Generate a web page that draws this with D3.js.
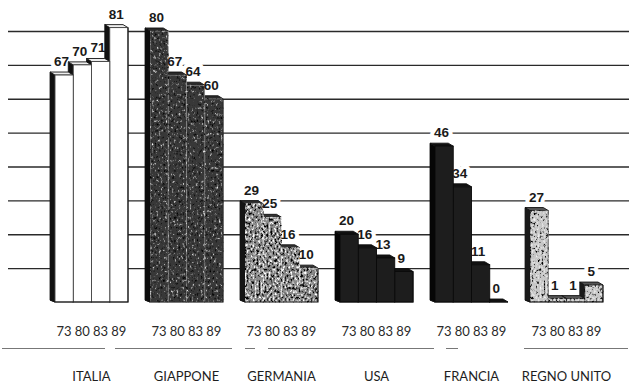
<!DOCTYPE html>
<html>
<head>
<meta charset="utf-8">
<script src="https://cdn.jsdelivr.net/npm/d3@7/dist/d3.min.js"></script>
<style>
  html, body { margin: 0; padding: 0; background: #fff; }
  svg { display: block; }
</style>
</head>
<body>
<script>
// Consumi per paese, quattro rilevazioni (73, 80, 83, 89)
const countries = ["ITALIA", "GIAPPONE", "GERMANIA", "USA", "FRANCIA", "REGNO UNITO"];
const years = ["73", "80", "83", "89"];
const italia = [67, 70, 71, 81];
const giappone = [80, 67, 64, 60];
const germania = [29, 25, 16, 10];
const usa = [20, 16, 13, 9];
const francia = [46, 34, 11, 0];
const regnoUnito = [27, 1, 1, 5];
const gridTicks = [10, 20, 30, 40, 50, 60, 70, 80];

const seriesByCountry = {
  "ITALIA": italia,
  "GIAPPONE": giappone,
  "GERMANIA": germania,
  "USA": usa,
  "FRANCIA": francia,
  "REGNO UNITO": regnoUnito
};

const W = 631, H = 391;
const svg = d3.select("body").append("svg").attr("width", W).attr("height", H);

// fill style of each block of bars
const styles = {
  "ITALIA":      { front: "#ffffff", top: "#eeeeee", side: "#111", stroke: "#444", filter: null },
  "GIAPPONE":    { front: "#383838", top: "#2a2a2a", side: "#0c0c0c", stroke: "#858585", filter: "grainDark" },
  "GERMANIA":    { front: "#8a8a8a", top: "#333", side: "#151515", stroke: "#d8d8d8", filter: "grainMid" },
  "USA":         { front: "#1d1d1d", top: "#111", side: "#060606", stroke: "#0a0a0a", filter: null },
  "FRANCIA":     { front: "#1d1d1d", top: "#111", side: "#060606", stroke: "#0a0a0a", filter: null },
  "REGNO UNITO": { front: "#c6c6c6", top: "#555", side: "#1a1a1a", stroke: "#333", filter: "grainLight" }
};

// mottled print texture for the stippled bars
const defs = svg.append("defs");
function grain(id, freq, lightA, lightB, darkA, darkB) {
  const f = defs.append("filter").attr("id", id)
    .attr("filterUnits", "userSpaceOnUse")
    .attr("x", 0).attr("y", 0).attr("width", W).attr("height", H)
    .attr("color-interpolation-filters", "sRGB");
  f.append("feTurbulence").attr("type", "fractalNoise")
    .attr("baseFrequency", freq).attr("numOctaves", 3).attr("seed", 11).attr("result", "noise");
  f.append("feColorMatrix").attr("in", "noise").attr("type", "matrix")
    .attr("values", `0 0 0 0 1  0 0 0 0 1  0 0 0 0 1  ${lightA} 0 0 0 ${lightB}`)
    .attr("result", "light");
  f.append("feColorMatrix").attr("in", "noise").attr("type", "matrix")
    .attr("values", `0 0 0 0 0  0 0 0 0 0  0 0 0 0 0  ${darkA} 0 0 0 ${darkB}`)
    .attr("result", "dark");
  const m = f.append("feMerge").attr("result", "merged");
  m.append("feMergeNode").attr("in", "SourceGraphic");
  m.append("feMergeNode").attr("in", "light");
  m.append("feMergeNode").attr("in", "dark");
  f.append("feComposite").attr("in", "merged").attr("in2", "SourceGraphic").attr("operator", "in");
}
grain("grainDark", "0.45 0.3", 3.2, -1.95, -4, 1.6);
grain("grainMid", "0.5 0.32", 4.5, -2.4, -5, 2.3);
grain("grainLight", "0.5 0.32", 2.5, -1.3, -5, 2.1);

// scales
const x0 = d3.scaleBand().domain(countries).range([55, 603]).paddingInner(1 - 73 / 95).paddingOuter(0);
const x1 = d3.scaleBand().domain(years).range([0, x0.bandwidth()]);
const y = d3.scaleLinear().domain([0, 80]).range([302, 31]);

// horizontal rules
const grid = svg.append("g").attr("transform", "translate(8,0)")
  .call(d3.axisLeft(y).tickValues(gridTicks).tickSize(-621).tickFormat(""));
grid.select(".domain").remove();
grid.selectAll(".tick line").attr("stroke", "#2a2a2a").attr("stroke-width", 1.3);

const labelFont = "'Liberation Sans', Arial, sans-serif";
const textFont = "Lato, 'Noto Sans', sans-serif";

// value labels: white halo first so the rules break round the numbers
const labelData = [];
countries.forEach(c => {
  seriesByCountry[c].forEach((v, i) => labelData.push({ c, yr: years[i], v }));
});
const labelX = d => x0(d.c) + x1(d.yr) + x1.bandwidth() * 0.36;
const labelY = d => y(d.v) - 9;

svg.append("g").selectAll("text").data(labelData).join("text")
  .attr("x", labelX).attr("y", labelY)
  .attr("text-anchor", "middle")
  .attr("font-family", labelFont).attr("font-weight", "bold").attr("font-size", 13.5)
  .attr("fill", "#fff").attr("stroke", "#fff").attr("stroke-width", 8)
  .attr("stroke-linejoin", "round")
  .text(d => d.v);

// 3D bars: front face with a dark side and a narrow top face
const DX = -5, DY = -3;
const base = y(0);
const w = x1.bandwidth();

countries.forEach(c => {
  const st = styles[c];
  const vals = seriesByCountry[c];
  const g = svg.append("g").attr("transform", `translate(${x0(c)},0)`);
  // paint right to left so the nearer bar sits on top
  d3.range(vals.length - 1, -1, -1).forEach(i => {
    const bx = x1(years[i]);
    const yt = y(vals[i]);
    const bg = g.append("g");
    bg.append("polygon")
      .attr("points", [[bx, yt], [bx + DX, yt + DY], [bx + DX, base + DY + 1], [bx, base]].join(" "))
      .attr("fill", st.side).attr("stroke", st.side).attr("stroke-width", 0.8);
    bg.append("polygon")
      .attr("points", [[bx, yt], [bx + DX, yt + DY], [bx + w + DX, yt + DY], [bx + w, yt]].join(" "))
      .attr("fill", st.top).attr("stroke", "#111").attr("stroke-width", 0.9)
      .attr("stroke-linejoin", "round");
    const front = bg.append("rect")
      .attr("x", bx).attr("y", yt)
      .attr("width", w).attr("height", Math.max(0, base - yt))
      .attr("fill", st.front).attr("stroke", st.stroke).attr("stroke-width", 0.9);
    if (st.filter) front.attr("filter", `url(#${st.filter})`);
  });
  // dark outline along the bottom and right edge of the block
  const last = vals.length - 1;
  const rx = x1(years[last]) + w;
  g.append("path")
    .attr("d", `M${x1(years[0]) + DX},${base + DY + 1}L${x1(years[0])},${base}L${rx},${base}L${rx},${y(vals[last])}`)
    .attr("fill", "none").attr("stroke", "#111").attr("stroke-width", 1.1);
});

// value labels, text on top
svg.append("g").selectAll("text").data(labelData).join("text")
  .attr("x", labelX).attr("y", labelY)
  .attr("text-anchor", "middle")
  .attr("font-family", labelFont).attr("font-weight", "bold").attr("font-size", 13.5)
  .attr("fill", "#1a1a1a")
  .text(d => d.v);

// year ticks under each block
countries.forEach(c => {
  const ax = svg.append("g").attr("transform", `translate(${x0(c)},327)`)
    .call(d3.axisBottom(x1).tickSize(0).tickPadding(0));
  ax.select(".domain").remove();
  ax.selectAll("text")
    .attr("font-family", textFont).attr("font-size", 13)
    .attr("fill", "#2a2a2a");
});

// thin broken rule under the year row
const ruleSegments = [[2, 105], [115, 232], [245, 255], [268, 434], [446, 458], [524, 628]];
svg.append("g").selectAll("line").data(ruleSegments).join("line")
  .attr("x1", d => d[0]).attr("x2", d => d[1])
  .attr("y1", 348.5).attr("y2", 348.5)
  .attr("stroke", "#777").attr("stroke-width", 1);

// country names
const cx = svg.append("g").attr("transform", "translate(0,372)")
  .call(d3.axisBottom(x0).tickSize(0).tickPadding(0));
cx.select(".domain").remove();
cx.selectAll("text")
  .attr("font-family", textFont).attr("font-size", 13)
  .attr("fill", "#1e1e1e");
</script>
</body>
</html>
